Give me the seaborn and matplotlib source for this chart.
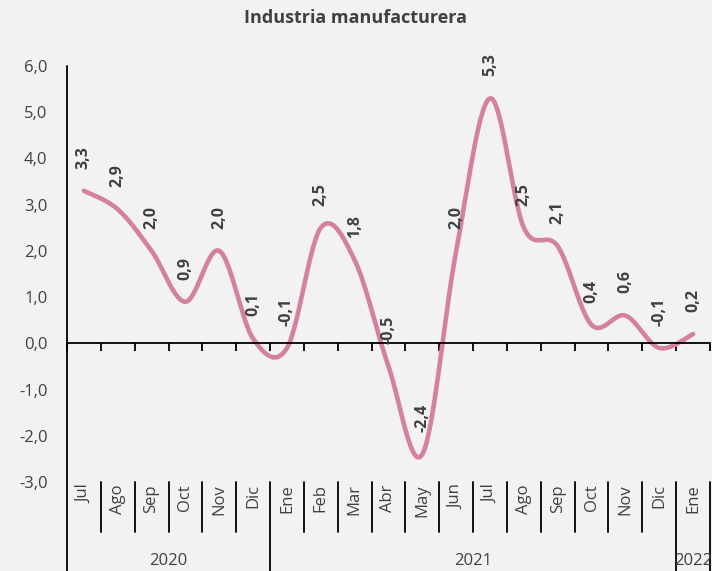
import numpy as np
import pandas as pd
import matplotlib
matplotlib.use("Agg")
import matplotlib.pyplot as plt
import matplotlib.transforms as mtransforms
import seaborn as sns

# ---- data ----
months = ["Jul", "Ago", "Sep", "Oct", "Nov", "Dic",
          "Ene", "Feb", "Mar", "Abr", "May", "Jun", "Jul", "Ago", "Sep", "Oct", "Nov", "Dic",
          "Ene"]
years = ["2020", "2021", "2022"]
year_counts = [6, 12, 1]
values = [3.3, 2.9, 2.0, 0.9, 2.0, 0.1,
          -0.1, 2.5, 1.8, -0.5, -2.4, 2.0, 5.3, 2.5, 2.1, 0.4, 0.6, -0.1,
          0.2]
yticks = [-3, -2, -1, 0, 1, 2, 3, 4, 5, 6]
title = "Industria manufacturera"

LINE = "#d4819f"
BG = "#f2f2f2"
TXT = "#404040"

sns.set_theme(style="white")
plt.rcParams["font.family"] = ["Open Sans", "DejaVu Sans"]

fig = plt.figure(figsize=(7.12, 5.71), dpi=100, facecolor=BG)
ax = fig.add_axes([67 / 712, (571 - 482) / 571, 643 / 712, 416 / 571])
ax.set_facecolor(BG)

x = np.arange(len(values), dtype=float)
y = np.array(values, dtype=float)


def smooth(xs, ys, n=30):
    # Excel-style smoothed line (Catmull-Rom cubic Bezier segments)
    px, py = [], []
    N = len(xs)
    for i in range(N - 1):
        p0 = np.array([xs[max(i - 1, 0)], ys[max(i - 1, 0)]])
        p1 = np.array([xs[i], ys[i]])
        p2 = np.array([xs[i + 1], ys[i + 1]])
        p3 = np.array([xs[min(i + 2, N - 1)], ys[min(i + 2, N - 1)]])
        c1 = p1 + (p2 - p0) / 6
        c2 = p2 - (p3 - p1) / 6
        t = np.linspace(0, 1, n)[:, None]
        seg = ((1 - t) ** 3) * p1 + 3 * ((1 - t) ** 2) * t * c1 + 3 * (1 - t) * t ** 2 * c2 + t ** 3 * p2
        if i > 0:
            seg = seg[1:]
        px.extend(seg[:, 0])
        py.extend(seg[:, 1])
    return np.array(px), np.array(py)


sx, sy = smooth(x, y)
curve = pd.DataFrame({"x": sx, "y": sy})
sns.lineplot(data=curve, x="x", y="y", ax=ax, color=LINE, linewidth=3.3,
             sort=False, estimator=None, solid_capstyle="round")

# data labels
for xi, yi in zip(x, y):
    ax.annotate(f"{yi:.1f}".replace(".", ","), (xi, yi), xytext=(0, 16),
                textcoords="offset points", rotation=90, ha="center", va="bottom",
                fontsize=11.5, fontweight="bold", color=TXT)

ax.set_xlim(-0.5, len(values) - 0.5)
ax.set_ylim(-3, 6)
ax.set_yticks(yticks)
ax.set_yticklabels([f"{v:.1f}".replace(".", ",") for v in yticks], fontsize=12, color=TXT)
ax.tick_params(axis="y", length=0, pad=14)
ax.set_xlabel("")
ax.set_ylabel("")

# x axis at zero with ticks at category boundaries
for s in ["top", "right", "left"]:
    ax.spines[s].set_visible(False)
ax.spines["bottom"].set_position(("data", 0))
ax.spines["bottom"].set_color("black")
ax.spines["bottom"].set_linewidth(1.3)
ax.set_xticks(x)
ax.set_xticklabels([])
ax.tick_params(axis="x", which="major", length=0, bottom=False)
ax.set_xticks(np.arange(len(values) + 1) - 0.5, minor=True)
ax.tick_params(axis="x", which="minor", bottom=True, length=6, width=1.3,
               color="black", direction="out")

# category axis below the plot
trans = mtransforms.blended_transform_factory(ax.transData, ax.transAxes)
y_month_bot = -50 / 416
y_year_bot = -89 / 416
ax.plot([0, 0], [1, y_year_bot], transform=ax.transAxes, color="black", lw=1.3, clip_on=False)
for i, m in enumerate(months):
    ax.text(i, -0.006, m, transform=trans, rotation=90, ha="center", va="top",
            fontsize=12, color=TXT, clip_on=False)
bounds = np.cumsum([0] + year_counts)
for b in range(1, len(values) + 1):
    bx = b - 0.5
    if b in bounds:
        ax.plot([bx, bx], [0, y_year_bot], transform=trans, color="black", lw=1.3, clip_on=False)
    else:
        ax.plot([bx, bx], [0, y_month_bot], transform=trans, color="black", lw=1.3, clip_on=False)
for yr, a, b in zip(years, bounds[:-1], bounds[1:]):
    ax.text((a + b - 1) / 2, -79 / 416, yr, transform=trans, ha="center", va="center",
            fontsize=12, color=TXT, clip_on=False)

fig.text(0.5, 1 - 18 / 571, title, ha="center", va="center", fontsize=13,
         fontweight="bold", color=TXT)

fig.savefig("out.png", dpi=100, facecolor=BG)
